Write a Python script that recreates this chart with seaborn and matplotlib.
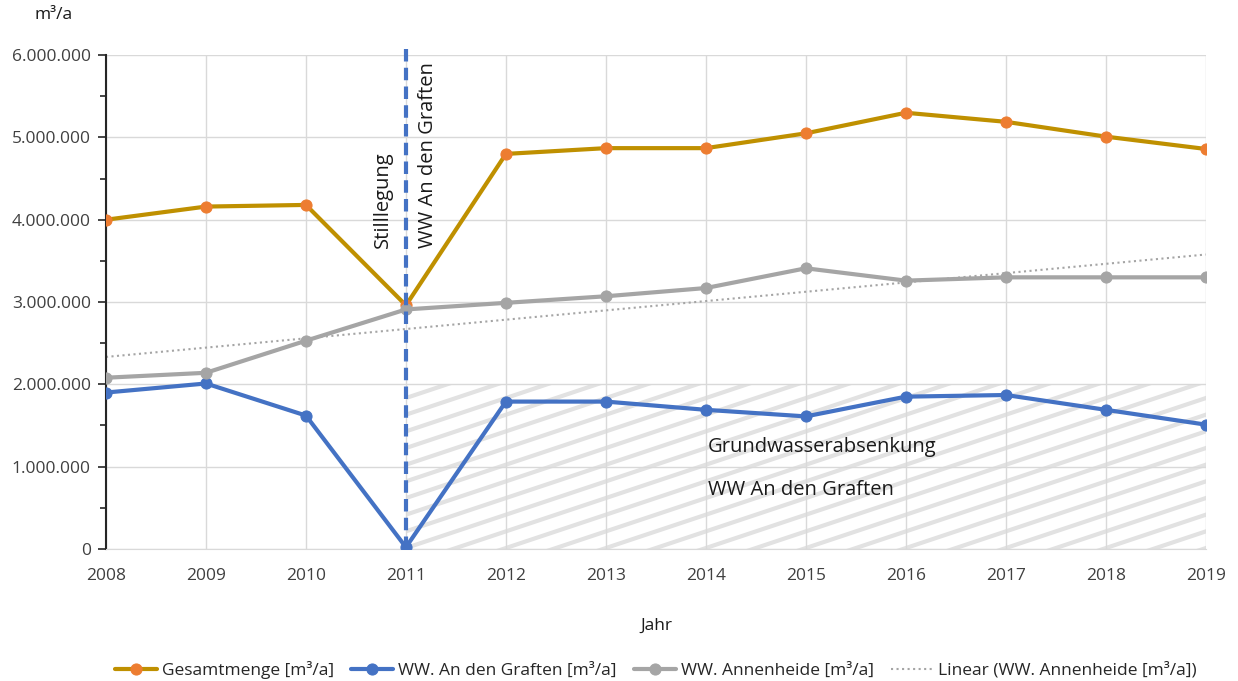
import numpy as np
import pandas as pd
import seaborn as sns
import matplotlib
matplotlib.use('Agg')
import matplotlib.pyplot as plt
from matplotlib import hatch as mhatch
from matplotlib.path import Path
from matplotlib.ticker import FuncFormatter, MultipleLocator

years = [2008, 2009, 2010, 2011, 2012, 2013, 2014, 2015, 2016, 2017, 2018, 2019]
gesamt = [4000000, 4160000, 4180000, 2960000, 4800000, 4870000, 4870000, 5050000, 5300000, 5190000, 5010000, 4860000]
graften = [1900000, 2010000, 1620000, 20000, 1790000, 1790000, 1690000, 1610000, 1850000, 1870000, 1690000, 1510000]
annenheide = [2080000, 2140000, 2530000, 2910000, 2990000, 3070000, 3170000, 3410000, 3260000, 3300000, 3300000, 3300000]

labels = ["Gesamtmenge [m³/a]", "WW. An den Graften [m³/a]", "WW. Annenheide [m³/a]",
          "Linear (WW. Annenheide [m³/a])"]
stilllegung_year = 2011
absenkung_top = 2000000


# flat diagonal hatch like the Excel pattern fill ('s' in the hatch string)
class FlatHatch(mhatch.HatchPatternBase):
    def __init__(self, hatch, density):
        self.n = 6 if 's' in hatch else 0
        self.ks = np.arange(-3, self.n + 1)
        self.num_vertices = 2 * len(self.ks) if self.n else 0

    def set_vertices_and_codes(self, vertices, codes):
        y0 = self.ks / self.n
        vertices[0::2, 0] = 0.0
        vertices[0::2, 1] = y0
        vertices[1::2, 0] = 1.0
        vertices[1::2, 1] = y0 + 1 / 3
        codes[0::2] = Path.MOVETO
        codes[1::2] = Path.LINETO


mhatch._hatch_types.append(FlatHatch)

df = pd.DataFrame({"Jahr": years, "gesamt": gesamt, "graften": graften, "annenheide": annenheide})

sns.set_style("white")
plt.rcParams['font.family'] = ['Open Sans', 'DejaVu Sans']
plt.rcParams['hatch.linewidth'] = 3

fig = plt.figure(figsize=(12.38, 6.81), dpi=100)
ax = fig.add_axes([0.0856, 0.194, 0.974 - 0.0856, 0.919 - 0.194])

# hatched area after shutdown
ax.fill_between([stilllegung_year, years[-1]], 0, absenkung_top, facecolor='none',
                edgecolor='#e2e2e2', hatch='s', linewidth=0, zorder=0)

sns.lineplot(data=df, x="Jahr", y="gesamt", ax=ax, color='#bf9000', linewidth=3,
             marker='o', markersize=8, markerfacecolor='#ed7d31', markeredgecolor='#ed7d31',
             label=labels[0], zorder=3)
sns.lineplot(data=df, x="Jahr", y="graften", ax=ax, color='#4472c4', linewidth=3,
             marker='o', markersize=8, markeredgecolor='#4472c4', label=labels[1], zorder=3)
sns.lineplot(data=df, x="Jahr", y="annenheide", ax=ax, color='#a5a5a5', linewidth=3,
             marker='o', markersize=8, markeredgecolor='#a5a5a5', label=labels[2], zorder=3)
sns.regplot(data=df, x="Jahr", y="annenheide", ax=ax, scatter=False, ci=None, label=labels[3],
            line_kws=dict(color='#a5a5a5', linestyle=':', linewidth=1.5))

ax.axvline(stilllegung_year, ymin=0, ymax=1.02, color='#4472c4', linestyle='--',
           linewidth=3, dashes=(3, 1.5), clip_on=False, zorder=4)

ax.text(stilllegung_year - 0.23, 3660000, "Stilllegung", rotation=90, ha='center', va='bottom',
        fontsize=14.5, color='#1a1a1a')
ax.text(stilllegung_year + 0.22, 3660000, "WW An den Graften", rotation=90, ha='center',
        va='bottom', fontsize=14.5, color='#1a1a1a')
ax.text(2014.02, 1240000, "Grundwasserabsenkung", ha='left', va='center', fontsize=14.5,
        color='#1a1a1a')
ax.text(2014.02, 710000, "WW An den Graften", ha='left', va='center', fontsize=14.5,
        color='#1a1a1a')

ax.set_xlim(years[0], years[-1])
ax.set_ylim(0, 6000000)
ax.set_xticks(years)
ax.yaxis.set_major_locator(MultipleLocator(1000000))
ax.yaxis.set_minor_locator(MultipleLocator(500000))
ax.yaxis.set_major_formatter(FuncFormatter(lambda v, p: f"{int(v):,}".replace(",", ".")))
ax.grid(True, which='major', color='#d9d9d9', linewidth=1)
ax.tick_params(axis='both', labelsize=12.5, labelcolor='#404040')
ax.tick_params(axis='y', which='both', left=True, length=6, color='#262626', width=1.2, pad=5)
ax.tick_params(axis='y', which='minor', length=4)
ax.tick_params(axis='x', length=0, pad=14)
for s in ['top', 'right']:
    ax.spines[s].set_visible(False)
ax.spines['left'].set_color('#262626')
ax.spines['left'].set_linewidth(1.5)
ax.spines['bottom'].set_color('#d9d9d9')

ax.set_xlabel("Jahr", fontsize=12.5, color='#1a1a1a', labelpad=24)
ax.set_ylabel("")
fig.text(0.028, 0.978, "m³/a", ha='left', va='center', fontsize=12.5, color='#1a1a1a')

ax.legend(loc='center', bbox_to_anchor=(0.5, -0.245), ncol=4, frameon=False,
          fontsize=12.5, handlelength=2.4, columnspacing=1.0, handletextpad=0.3)

fig.savefig("out.png", dpi=100)
